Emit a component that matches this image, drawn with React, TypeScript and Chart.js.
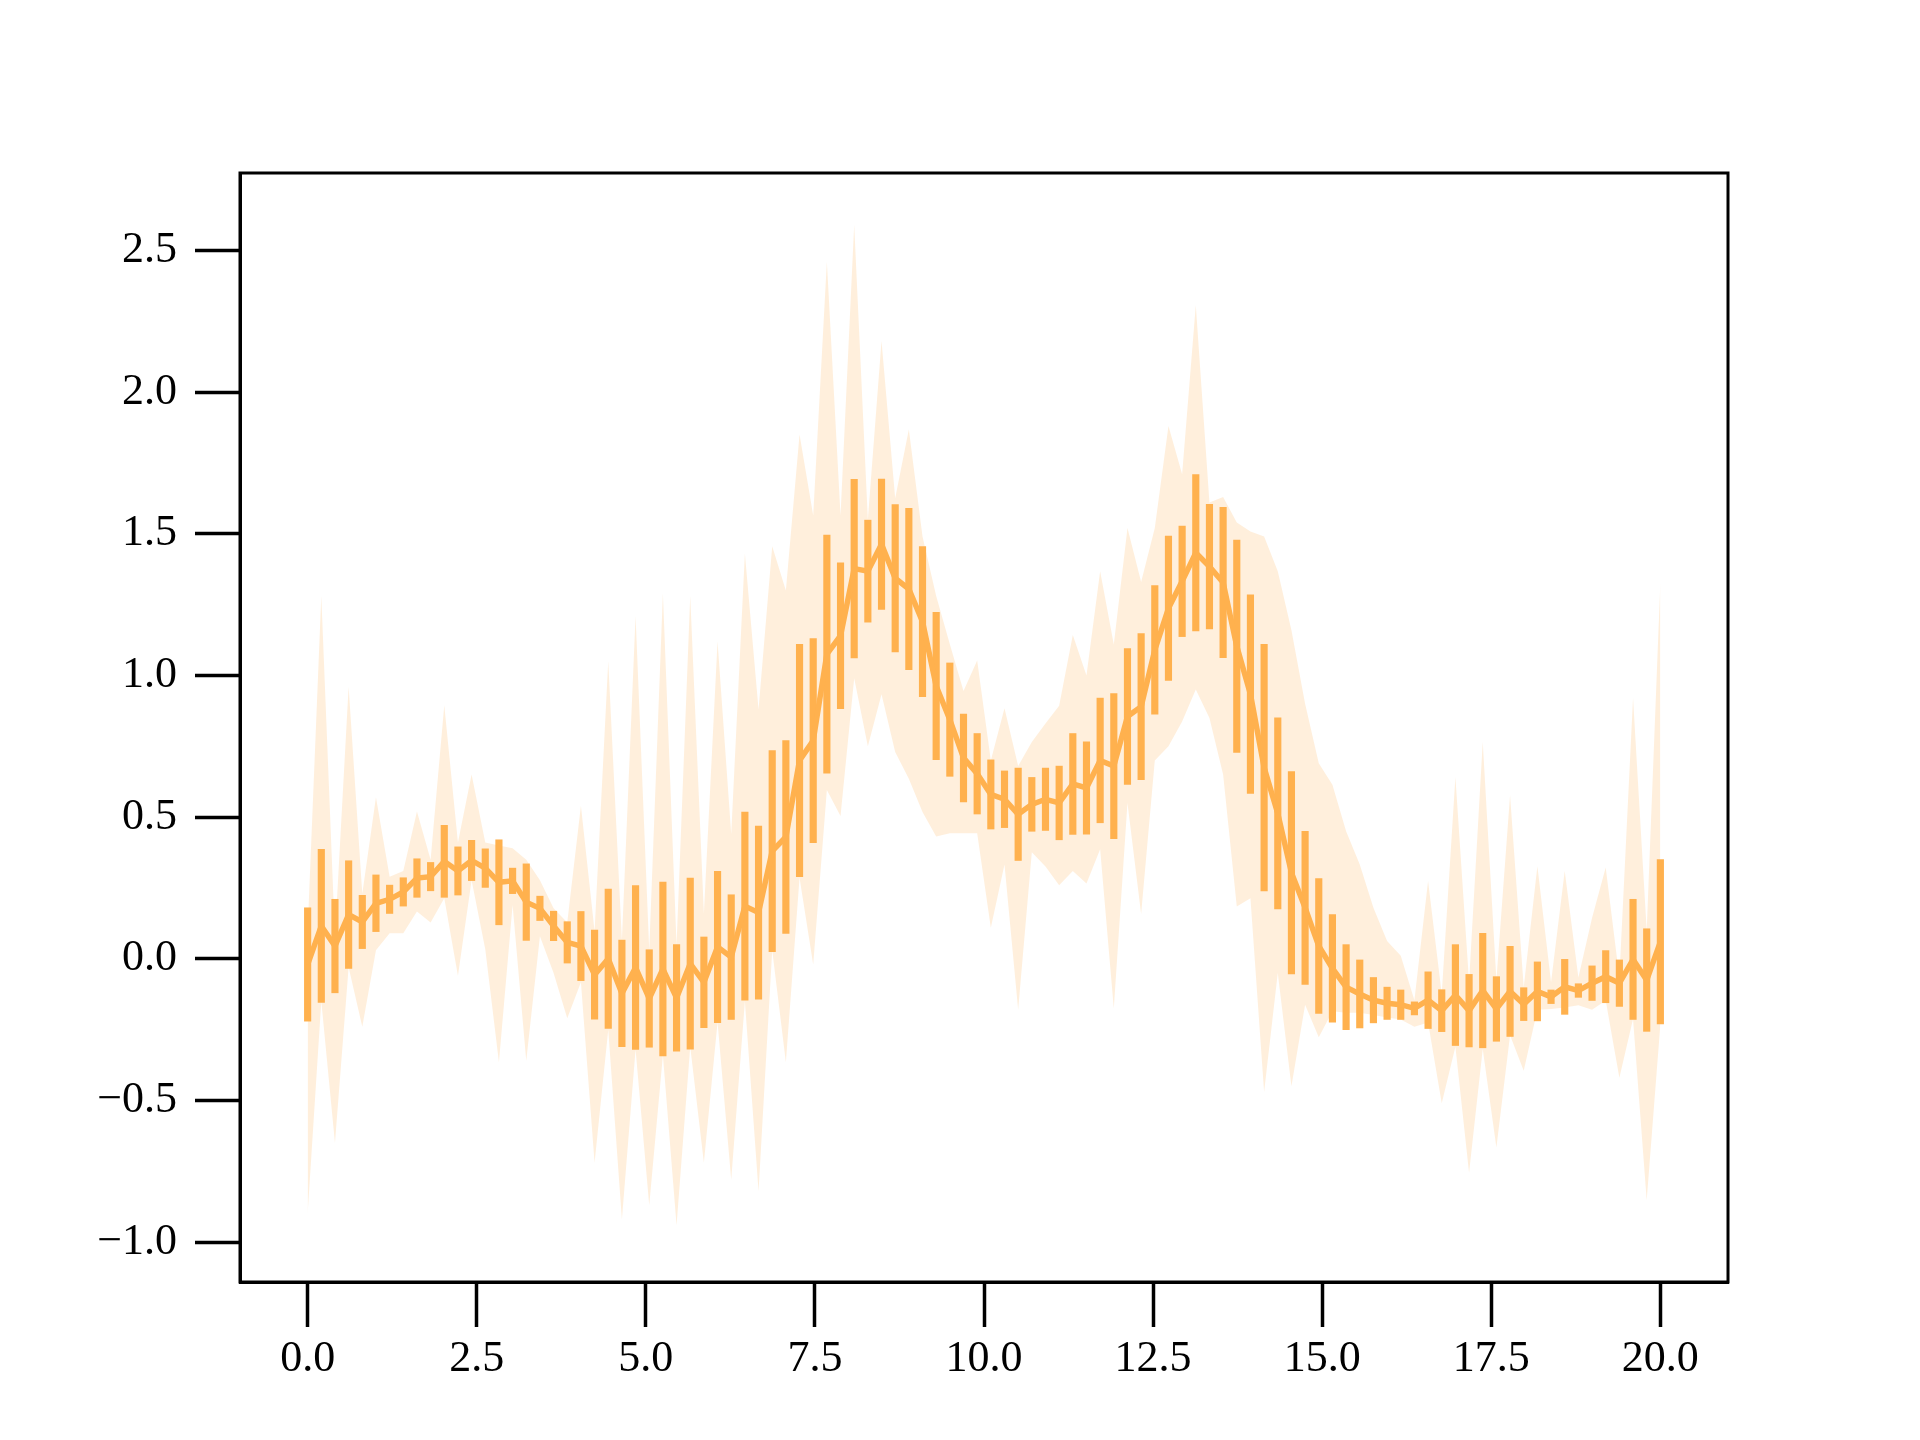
import React, { useEffect, useRef } from "react";
import { Chart, registerables } from "chart.js";

Chart.register(...registerables);

// x grid: 100 evenly spaced samples from 0 to 20
const xStart = 0;
const xEnd = 20;

const meanValues = [
  -0.02, 0.116, 0.045, 0.156, 0.13, 0.196, 0.21, 0.236, 0.285, 0.29,
  0.344, 0.31, 0.347, 0.32, 0.27, 0.275, 0.2, 0.178, 0.116, 0.058,
  0.045, -0.056, 0.0, -0.122, -0.031, -0.14, -0.036, -0.138, -0.017, -0.083,
  0.042, 0.006, 0.186, 0.163, 0.38, 0.43, 0.7, 0.77, 1.075, 1.14,
  1.377, 1.368, 1.463, 1.343, 1.305, 1.19, 0.963, 0.844, 0.709, 0.653,
  0.58, 0.563, 0.51, 0.545, 0.563, 0.55, 0.617, 0.603, 0.7, 0.68,
  0.855, 0.89, 1.09, 1.237, 1.332, 1.433, 1.384, 1.328, 1.103, 0.934,
  0.675, 0.513, 0.304, 0.18, 0.045, -0.034, -0.1, -0.124, -0.146, -0.157,
  -0.162, -0.175, -0.146, -0.183, -0.128, -0.183, -0.112, -0.177, -0.115, -0.16,
  -0.115, -0.134, -0.099, -0.112, -0.086, -0.063, -0.086, -0.002, -0.075, 0.06,
];

const errValues = [
  0.2, 0.27, 0.165, 0.19, 0.094, 0.1, 0.05, 0.05, 0.068, 0.05,
  0.127, 0.085, 0.071, 0.068, 0.15, 0.045, 0.135, 0.043, 0.052, 0.073,
  0.122, 0.157, 0.246, 0.188, 0.289, 0.172, 0.307, 0.188, 0.302, 0.16,
  0.267, 0.22, 0.332, 0.305, 0.355, 0.34, 0.41, 0.36, 0.42, 0.257,
  0.315, 0.18, 0.23, 0.26, 0.285, 0.265, 0.26, 0.2, 0.155, 0.142,
  0.122, 0.1, 0.163, 0.095, 0.11, 0.13, 0.178, 0.163, 0.22, 0.256,
  0.24, 0.258, 0.227, 0.255, 0.195, 0.276, 0.22, 0.265, 0.375, 0.35,
  0.435, 0.337, 0.357, 0.27, 0.238, 0.19, 0.15, 0.12, 0.08, 0.057,
  0.052, 0.023, 0.1, 0.074, 0.178, 0.128, 0.202, 0.114, 0.159, 0.058,
  0.104, 0.024, 0.097, 0.024, 0.061, 0.092, 0.082, 0.212, 0.181, 0.29,
];

const bandUpper = [
  0.1, 1.28, 0.08, 0.96, 0.23, 0.57, 0.29, 0.31, 0.52, 0.35,
  0.895, 0.41, 0.65, 0.41, 0.4, 0.39, 0.35, 0.277, 0.178, 0.128,
  0.54, 0.097, 1.05, 0.066, 1.21, 0.03, 1.29, 0.05, 1.28, 0.16,
  1.12, 0.44, 1.43, 0.88, 1.456, 1.3, 1.85, 1.564, 2.46, 1.564,
  2.59, 1.55, 2.18, 1.625, 1.868, 1.49, 1.28, 1.11, 0.945, 1.053,
  0.7, 0.884, 0.68, 0.765, 0.83, 0.893, 1.143, 1.0, 1.368, 1.109,
  1.52, 1.33, 1.52, 1.88, 1.71, 2.306, 1.61, 1.63, 1.54, 1.508,
  1.49, 1.368, 1.159, 0.9, 0.69, 0.614, 0.45, 0.333, 0.18, 0.063,
  0.011, -0.146, 0.275, -0.124, 0.642, -0.083, 0.765, -0.075, 0.577, -0.1,
  0.327, -0.083, 0.31, -0.066, 0.144, 0.322, -0.066, 0.92, 0.1, 1.327,
];

const bandLower = [
  -0.9, -0.15, -0.65, -0.03, -0.24, 0.03, 0.09, 0.09, 0.167, 0.128,
  0.214, -0.06, 0.277, 0.034, -0.365, 0.19, -0.36, 0.08, -0.05, -0.21,
  -0.083, -0.72, -0.25, -0.92, -0.32, -0.87, -0.34, -0.94, -0.31, -0.72,
  -0.224, -0.78, -0.15, -0.82, 0.03, -0.365, 0.286, -0.02, 0.596, 0.504,
  0.99, 0.75, 0.934, 0.73, 0.635, 0.518, 0.432, 0.443, 0.443, 0.443,
  0.11, 0.333, -0.18, 0.376, 0.326, 0.26, 0.31, 0.266, 0.387, -0.175,
  0.55, 0.158, 0.7, 0.75, 0.837, 0.95, 0.85, 0.65, 0.185, 0.214,
  -0.47, -0.05, -0.45, -0.162, -0.277, -0.185, -0.19, -0.19, -0.198, -0.207,
  -0.214, -0.24, -0.225, -0.51, -0.31, -0.755, -0.318, -0.666, -0.27, -0.395,
  -0.18, -0.177, -0.172, -0.164, -0.18, -0.147, -0.42, -0.212, -0.852, -0.232,
];

const xTicks = [0, 2.5, 5, 7.5, 10, 12.5, 15, 17.5, 20];
const yTicks = [-1, -0.5, 0, 0.5, 1, 1.5, 2, 2.5];

const ORANGE = "#ffb14e";
const BAND = "rgba(255, 177, 78, 0.2)";
const FONT = "'Liberation Serif', 'DejaVu Serif', serif";

const fmt = (v: number) =>
  v < 0 ? "\u2212" + Math.abs(v).toFixed(1) : v.toFixed(1);

export default function App() {
  const ref = useRef<HTMLCanvasElement>(null);

  useEffect(() => {
    if (!ref.current) return;
    const n = meanValues.length;
    const xs = meanValues.map((_, i) => xStart + ((xEnd - xStart) * i) / (n - 1));
    const pts = (arr: number[]) => arr.map((v, i) => ({ x: xs[i], y: v }));

    const framePlugin = {
      id: "frame",
      afterDraw(chart: any) {
        const { ctx, chartArea } = chart;
        const { left, top, right, bottom } = chartArea;
        ctx.save();
        ctx.strokeStyle = "#000";
        ctx.lineWidth = 3;
        ctx.strokeRect(left, top, right - left, bottom - top);
        ctx.restore();
      },
    };

    const tickGrid = {
      display: true,
      offset: false,
      drawOnChartArea: false,
      drawTicks: true,
      tickLength: 45,
      tickWidth: 3.5,
      tickColor: "#000",
    };

    const chart = new Chart(ref.current, {
      type: "line",
      data: {
        datasets: [
          {
            type: "line",
            data: pts(meanValues),
            borderColor: ORANGE,
            borderWidth: 5.5,
            pointRadius: 0,
            fill: false,
            tension: 0,
            order: 0,
          },
          {
            type: "bar",
            data: xs.map((x, i) => ({
              x,
              y: [meanValues[i] - errValues[i], meanValues[i] + errValues[i]],
            })),
            backgroundColor: ORANGE,
            borderWidth: 0,
            barThickness: 6.5,
            grouped: false,
            order: 1,
          } as any,
          {
            type: "line",
            data: pts(bandUpper),
            borderColor: "rgba(0,0,0,0)",
            borderWidth: 0,
            pointRadius: 0,
            backgroundColor: BAND,
            fill: "+1",
            tension: 0,
            order: 3,
          },
          {
            type: "line",
            data: pts(bandLower),
            borderColor: "rgba(0,0,0,0)",
            borderWidth: 0,
            pointRadius: 0,
            fill: false,
            tension: 0,
            order: 4,
          },
        ],
      },
      options: {
        responsive: false,
        animation: false,
        devicePixelRatio: 1,
        layout: { padding: { top: 173, right: 192, left: 0, bottom: 0 } },
        plugins: {
          legend: { display: false },
          tooltip: { enabled: false },
        },
        scales: {
          x: {
            type: "linear",
            min: -1,
            max: 21,
            offset: false,
            afterBuildTicks: (s: any) => {
              s.ticks = xTicks.map((v) => ({ value: v }));
            },
            afterFit: (s: any) => {
              s.height = 158;
            },
            ticks: {
              callback: (v: any) => fmt(Number(v)),
              font: { family: FONT, size: 44 },
              color: "#000",
              padding: 6,
              maxRotation: 0,
              autoSkip: false,
            },
            grid: tickGrid,
            border: { display: true, color: "#000", width: 3 },
          },
          y: {
            type: "linear",
            min: -1.1405,
            max: 2.773,
            afterBuildTicks: (s: any) => {
              s.ticks = yTicks.map((v) => ({ value: v }));
            },
            afterFit: (s: any) => {
              s.width = 240;
            },
            ticks: {
              callback: (v: any) => fmt(Number(v)),
              font: { family: FONT, size: 44 },
              color: "#000",
              padding: 18,
              autoSkip: false,
            },
            grid: tickGrid,
            border: { display: true, color: "#000", width: 3 },
          },
        },
      } as any,
      plugins: [framePlugin],
    });

    return () => chart.destroy();
  }, []);

  return (
    <div
      style={{
        position: "absolute",
        left: 0,
        top: 0,
        width: 1920,
        height: 1440,
        background: "#fff",
      }}
    >
      <canvas ref={ref} width={1920} height={1440} style={{ display: "block" }} />
    </div>
  );
}
